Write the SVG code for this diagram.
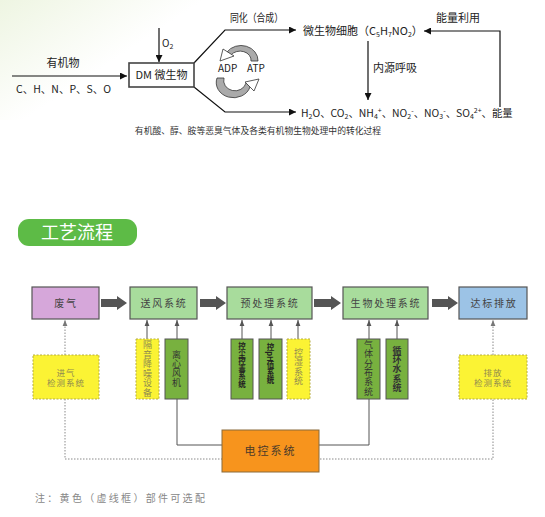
<svg xmlns="http://www.w3.org/2000/svg" width="545" height="517" viewBox="0 0 545 517">
<defs>
<marker id="ah" viewBox="0 0 10 10" refX="10" refY="5" markerWidth="7" markerHeight="7" markerUnits="userSpaceOnUse" orient="auto"><path d="M0,0 L10,5 L0,10 Z" fill="#111"/></marker>
<marker id="sh" viewBox="0 0 10 10" refX="10" refY="5" markerWidth="6" markerHeight="6" markerUnits="userSpaceOnUse" orient="auto"><path d="M0,1 L10,5 L0,9 Z" fill="#555"/></marker>
<marker id="dh" viewBox="0 0 10 10" refX="10" refY="5" markerWidth="6" markerHeight="6" markerUnits="userSpaceOnUse" orient="auto"><path d="M0,1 L10,5 L0,9 Z" fill="#777"/></marker>
<linearGradient id="bg" x1="0" y1="0" x2="1" y2="0.6"><stop offset="0" stop-color="#eef5e2"/><stop offset="0.5" stop-color="#ffffff"/></linearGradient>
</defs>
<style>
text{font-family:"Noto Sans CJK SC","Liberation Sans",sans-serif;}
.t{font-size:11px;fill:#222;}
.ln{stroke:#111;stroke-width:1.2;fill:none;}
.box{stroke:#555;stroke-width:1.2;}
.main{fill:#a8dc9c;}
.lbl{font-size:10px;fill:#444;letter-spacing:1.8px;text-anchor:middle;}
.dg{fill:#78b13f;stroke:#555;stroke-width:1;}
.yl{fill:#fbf334;stroke:#b5ac40;stroke-width:1;stroke-dasharray:2 1.5;}
.v{writing-mode:vertical-rl;text-anchor:middle;}
.vt{font-size:9px;fill:#333;letter-spacing:0.3px;}
.vb{font-size:7.5px;fill:#222;font-weight:bold;}
.vy{font-size:9px;fill:#8f8a50;letter-spacing:0.5px;}
.hy{font-size:8.5px;fill:#8f8a50;letter-spacing:1px;text-anchor:middle;}
.fat{fill:#555;}
.sub{stroke:#555;stroke-width:1;fill:none;}
.dash{stroke:#8a8a8a;stroke-width:1;fill:none;stroke-dasharray:1.5 1.5;}
.sb{font-size:7px;}
</style>
<rect width="545" height="517" fill="#fff"/>
<rect width="300" height="120" fill="url(#bg)"/>

<g id="top-diagram">
 <g id="connectors-top">
  <line class="ln" x1="12" y1="76" x2="127" y2="76" marker-end="url(#ah)"/>
  <line class="ln" x1="159" y1="28" x2="159" y2="62" marker-end="url(#ah)"/>
  <polyline class="ln" points="194,63 225,30 296,30" marker-end="url(#ah)"/>
  <polyline class="ln" points="194,87 225,112 296,112" marker-end="url(#ah)"/>
  <polyline class="ln" points="500,107 500,31 424,31" marker-end="url(#ah)"/>
  <line class="ln" x1="368" y1="41" x2="368" y2="100" marker-end="url(#ah)"/>
 </g>
 <g id="dm">
  <rect x="129" y="63" width="65" height="24" fill="#fff" stroke="#444" stroke-width="1.6"/>
  <text class="t" x="161.5" y="79" text-anchor="middle">DM 微生物</text>
 </g>
 <text class="t" x="63" y="67" text-anchor="middle">有机物</text>
 <text class="t" x="16" y="93" style="font-size:10.5px">C、H、N、P、S、O</text>
 <text class="t" x="162" y="47" style="font-size:10px">O<tspan class="sb" dy="2">2</tspan></text>
 <text class="t" x="230" y="22" textLength="53" lengthAdjust="spacingAndGlyphs">同化（合成）</text>
 <text class="t" x="436" y="22">能量利用</text>
 <text class="t" x="373" y="72">内源呼吸</text>
 <g id="cell">
  <text class="t" x="303" y="35">微生物细胞（C<tspan class="sb" dy="2">5</tspan><tspan dy="-2">H</tspan><tspan class="sb" dy="2">7</tspan><tspan dy="-2">NO</tspan><tspan class="sb" dy="2">2</tspan><tspan dy="-2">）</tspan></text>
 </g>
 <g id="products">
  <text class="t" x="301" y="117" style="font-size:10.4px">H<tspan class="sb" dy="2">2</tspan><tspan dy="-2">O、CO</tspan><tspan class="sb" dy="2">2</tspan><tspan dy="-2">、NH</tspan><tspan class="sb" dy="2">4</tspan><tspan class="sb" dy="-6">+</tspan><tspan dy="4">、NO</tspan><tspan class="sb" dy="2">2</tspan><tspan class="sb" dy="-6">-</tspan><tspan dy="4">、NO</tspan><tspan class="sb" dy="2">3</tspan><tspan class="sb" dy="-6">-</tspan><tspan dy="4">、SO</tspan><tspan class="sb" dy="2">4</tspan><tspan class="sb" dy="-6">2+</tspan><tspan dy="4">、能量</tspan></text>
 </g>
 <g id="atp-cycle">
  <path d="M227 52 A17 15 0 0 1 258 61 L251 61 A11 9 0 0 0 231 55 Z" fill="#aaa" stroke="#333" stroke-width="0.8"/>
  <polygon points="220,61 223,49 234,56" fill="#fff" stroke="#333" stroke-width="0.8"/>
  <path d="M217 78 A17 15 0 0 0 250 87 L246 83 A11 10 0 0 1 224 78 Z" fill="#aaa" stroke="#333" stroke-width="0.8"/>
  <polygon points="259,79 245,82 254,91" fill="#fff" stroke="#333" stroke-width="0.8"/>
  <text class="t" x="218" y="72" style="font-size:10px">ADP</text>
  <text class="t" x="247" y="72" style="font-size:10px">ATP</text>
 </g>
 <text x="258" y="134" font-size="8.8" fill="#333" text-anchor="middle">有机酸、醇、胺等恶臭气体及各类有机物生物处理中的转化过程</text>
</g>

<g id="title">
 <rect x="18" y="219" width="119" height="27" rx="11" fill="#5dbb46"/>
 <text x="77" y="239" font-size="18" fill="#fff" text-anchor="middle">工艺流程</text>
</g>

<g id="connectors">
 <polygon class="fat" points="101,299 117,299 117,296 127,303 117,310 117,307 101,307"/>
 <polygon class="fat" points="200,299 216,299 216,296 226,303 216,310 216,307 200,307"/>
 <polygon class="fat" points="314,299 331,299 331,296 341,303 331,310 331,307 314,307"/>
 <polygon class="fat" points="432,299 448,299 448,296 458,303 448,310 448,307 432,307"/>
 <line class="sub" x1="147" y1="339" x2="147" y2="320" marker-end="url(#sh)"/>
 <line class="sub" x1="177" y1="339" x2="177" y2="320" marker-end="url(#sh)"/>
 <line class="sub" x1="242" y1="339" x2="242" y2="320" marker-end="url(#sh)"/>
 <line class="sub" x1="271" y1="339" x2="271" y2="320" marker-end="url(#sh)"/>
 <line class="sub" x1="298" y1="339" x2="298" y2="320" marker-end="url(#sh)"/>
 <line class="sub" x1="369" y1="339" x2="369" y2="320" marker-end="url(#sh)"/>
 <line class="sub" x1="397" y1="339" x2="397" y2="320" marker-end="url(#sh)"/>
 <line class="dash" x1="65" y1="355" x2="65" y2="320" marker-end="url(#dh)"/>
 <line class="dash" x1="493" y1="355" x2="493" y2="320" marker-end="url(#dh)"/>
 <polyline class="dash" points="65,399 65,459 493,459 493,399"/>
 <polyline class="sub" points="177,399 177,445 222,445"/>
 <polyline class="sub" points="319,445 369,445 369,399"/>
</g>

<g id="n-feiqi"><rect class="box" x="32" y="287" width="67" height="32" fill="#d6a7da"/><text class="lbl" x="66" y="307">废气</text></g>
<g id="n-songfeng"><rect class="box main" x="130" y="287" width="67" height="32"/><text class="lbl" x="164" y="307">送风系统</text></g>
<g id="n-yuchuli"><rect class="box main" x="227" y="287" width="85" height="32"/><text class="lbl" x="270" y="307">预处理系统</text></g>
<g id="n-shengwu"><rect class="box main" x="343" y="287" width="85" height="32"/><text class="lbl" x="386" y="307">生物处理系统</text></g>
<g id="n-dabiao"><rect class="box" x="459" y="287" width="68" height="32" fill="#9cc3e6"/><text class="lbl" x="494" y="307">达标排放</text></g>

<g id="n-jinqi"><rect class="yl" x="33" y="355" width="66" height="44"/><text class="hy" x="66" y="375.5">进气</text><text class="hy" x="66" y="386">检测系统</text></g>
<g id="n-geyin"><rect class="yl" x="136" y="339" width="23" height="60"/><text class="v vy" x="147.5" y="369">隔音降噪设备</text></g>
<g id="n-lixin"><rect class="dg" x="165" y="339" width="23" height="60"/><text class="v vt" x="176.5" y="368.5">离心风机</text></g>
<g id="n-kongchen"><rect class="dg" x="231" y="339" width="22" height="60"/><text class="v vb" x="242" y="365">控尘控毒系统</text></g>
<g id="n-kongph"><rect class="dg" x="259" y="339" width="23" height="60"/><text class="v vb" x="270.5" y="364">控pH值系统</text></g>
<g id="n-kongshi"><rect class="yl" x="287" y="339" width="23" height="60"/><text class="v vy" x="298.5" y="367">控湿系统</text></g>
<g id="n-qiti"><rect class="dg" x="357" y="339" width="23" height="60"/><text class="v vt" x="368.5" y="368">气体分布系统</text></g>
<g id="n-xunhuan"><rect class="dg" x="386" y="339" width="22" height="60"/><text class="v vt" x="397" y="369" font-weight="bold" letter-spacing="0.5">循环水系统</text></g>
<g id="n-paifang"><rect class="yl" x="459" y="355" width="68" height="44"/><text class="hy" x="493" y="375.5">排放</text><text class="hy" x="493" y="386">检测系统</text></g>

<g id="n-diankong"><rect x="222" y="430" width="97" height="42" fill="#f7941d" stroke="#8a6a3a" stroke-width="1"/><text x="270.5" y="455" font-size="11" fill="#4a3a2a" text-anchor="middle" letter-spacing="2">电控系统</text></g>

<text x="35" y="502" font-size="10" fill="#888" letter-spacing="2.3">注：黄色（虚线框）部件可选配</text>
</svg>
